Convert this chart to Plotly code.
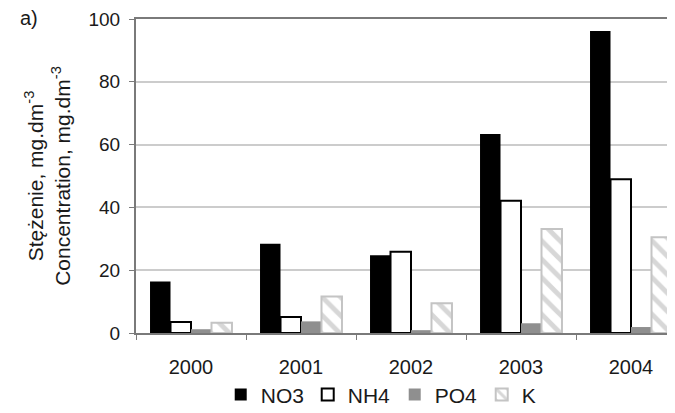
import plotly.graph_objects as go

years = ["2000", "2001", "2002", "2003", "2004"]
no3 = [16.4, 28.4, 24.8, 63.4, 96.2]
nh4 = [3.5, 5.1, 25.9, 42.1, 49.0]
po4 = [1.2, 3.7, 0.9, 3.1, 1.9]
k = [3.3, 11.6, 9.5, 33.1, 30.5]

FONT = "Liberation Sans, Arial, sans-serif"
TXT = "#1a1a1a"

fig = go.Figure()
fig.add_trace(go.Bar(name="NO3", x=years, y=no3,
                     marker=dict(color="#000000", line=dict(color="#000000", width=0))))
fig.add_trace(go.Bar(name="NH4", x=years, y=nh4,
                     marker=dict(color="#ffffff", line=dict(color="#000000", width=2))))
fig.add_trace(go.Bar(name="PO4", x=years, y=po4,
                     marker=dict(color="#8f8f8f", line=dict(color="#8f8f8f", width=0))))
fig.add_trace(go.Bar(name="K", x=years, y=k,
                     marker=dict(color="#ffffff", line=dict(color="#c4c4c4", width=2),
                                 pattern=dict(shape="\\", fgcolor="#b0b0b0", bgcolor="#ffffff",
                                              size=13, solidity=0.38))))

fig.update_layout(
    width=667, height=405,
    margin=dict(l=128, r=0, t=11, b=80, autoexpand=False),
    paper_bgcolor="white", plot_bgcolor="white",
    barmode="group", bargap=0.255, bargroupgap=0,
    font=dict(family=FONT, size=19, color=TXT),
    showlegend=True,
    legend=dict(orientation="h", x=0.48, xanchor="center", y=-0.197, yanchor="middle",
                font=dict(size=21, family=FONT, color=TXT), itemwidth=30,
                entrywidth=42, traceorder="normal", bgcolor="rgba(0,0,0,0)"),
    xaxis=dict(range=[-0.5, 4.4], showline=True, linecolor="#7a7a7a", linewidth=2,
               mirror=True, ticks="outside", tickson="boundaries", ticklen=5,
               tickcolor="#7a7a7a", showgrid=False, automargin=False,
               ticklabelstandoff=15,
               tickfont=dict(size=20, family=FONT, color=TXT)),
    yaxis=dict(range=[0, 100], dtick=20, showline=True, linecolor="#7a7a7a", linewidth=2,
               ticks="outside", ticklen=5, tickcolor="#7a7a7a",
               showgrid=True, gridcolor="#cccccc", gridwidth=1.5,
               zeroline=False, automargin=False, ticklabelstandoff=5,
               tickfont=dict(size=19, family=FONT, color=TXT),
               title=dict(text="Stężenie, mg.dm<sup>-3</sup><br>Concentration, mg.dm<sup>-3</sup>",
                          font=dict(size=21, family=FONT, color=TXT), standoff=12)),
)
fig.add_annotation(text="a)", xref="paper", yref="paper", x=-0.198, y=1.003,
                   xanchor="center", yanchor="middle", showarrow=False,
                   font=dict(size=20, family=FONT, color=TXT))

fig.write_html("out.html")
